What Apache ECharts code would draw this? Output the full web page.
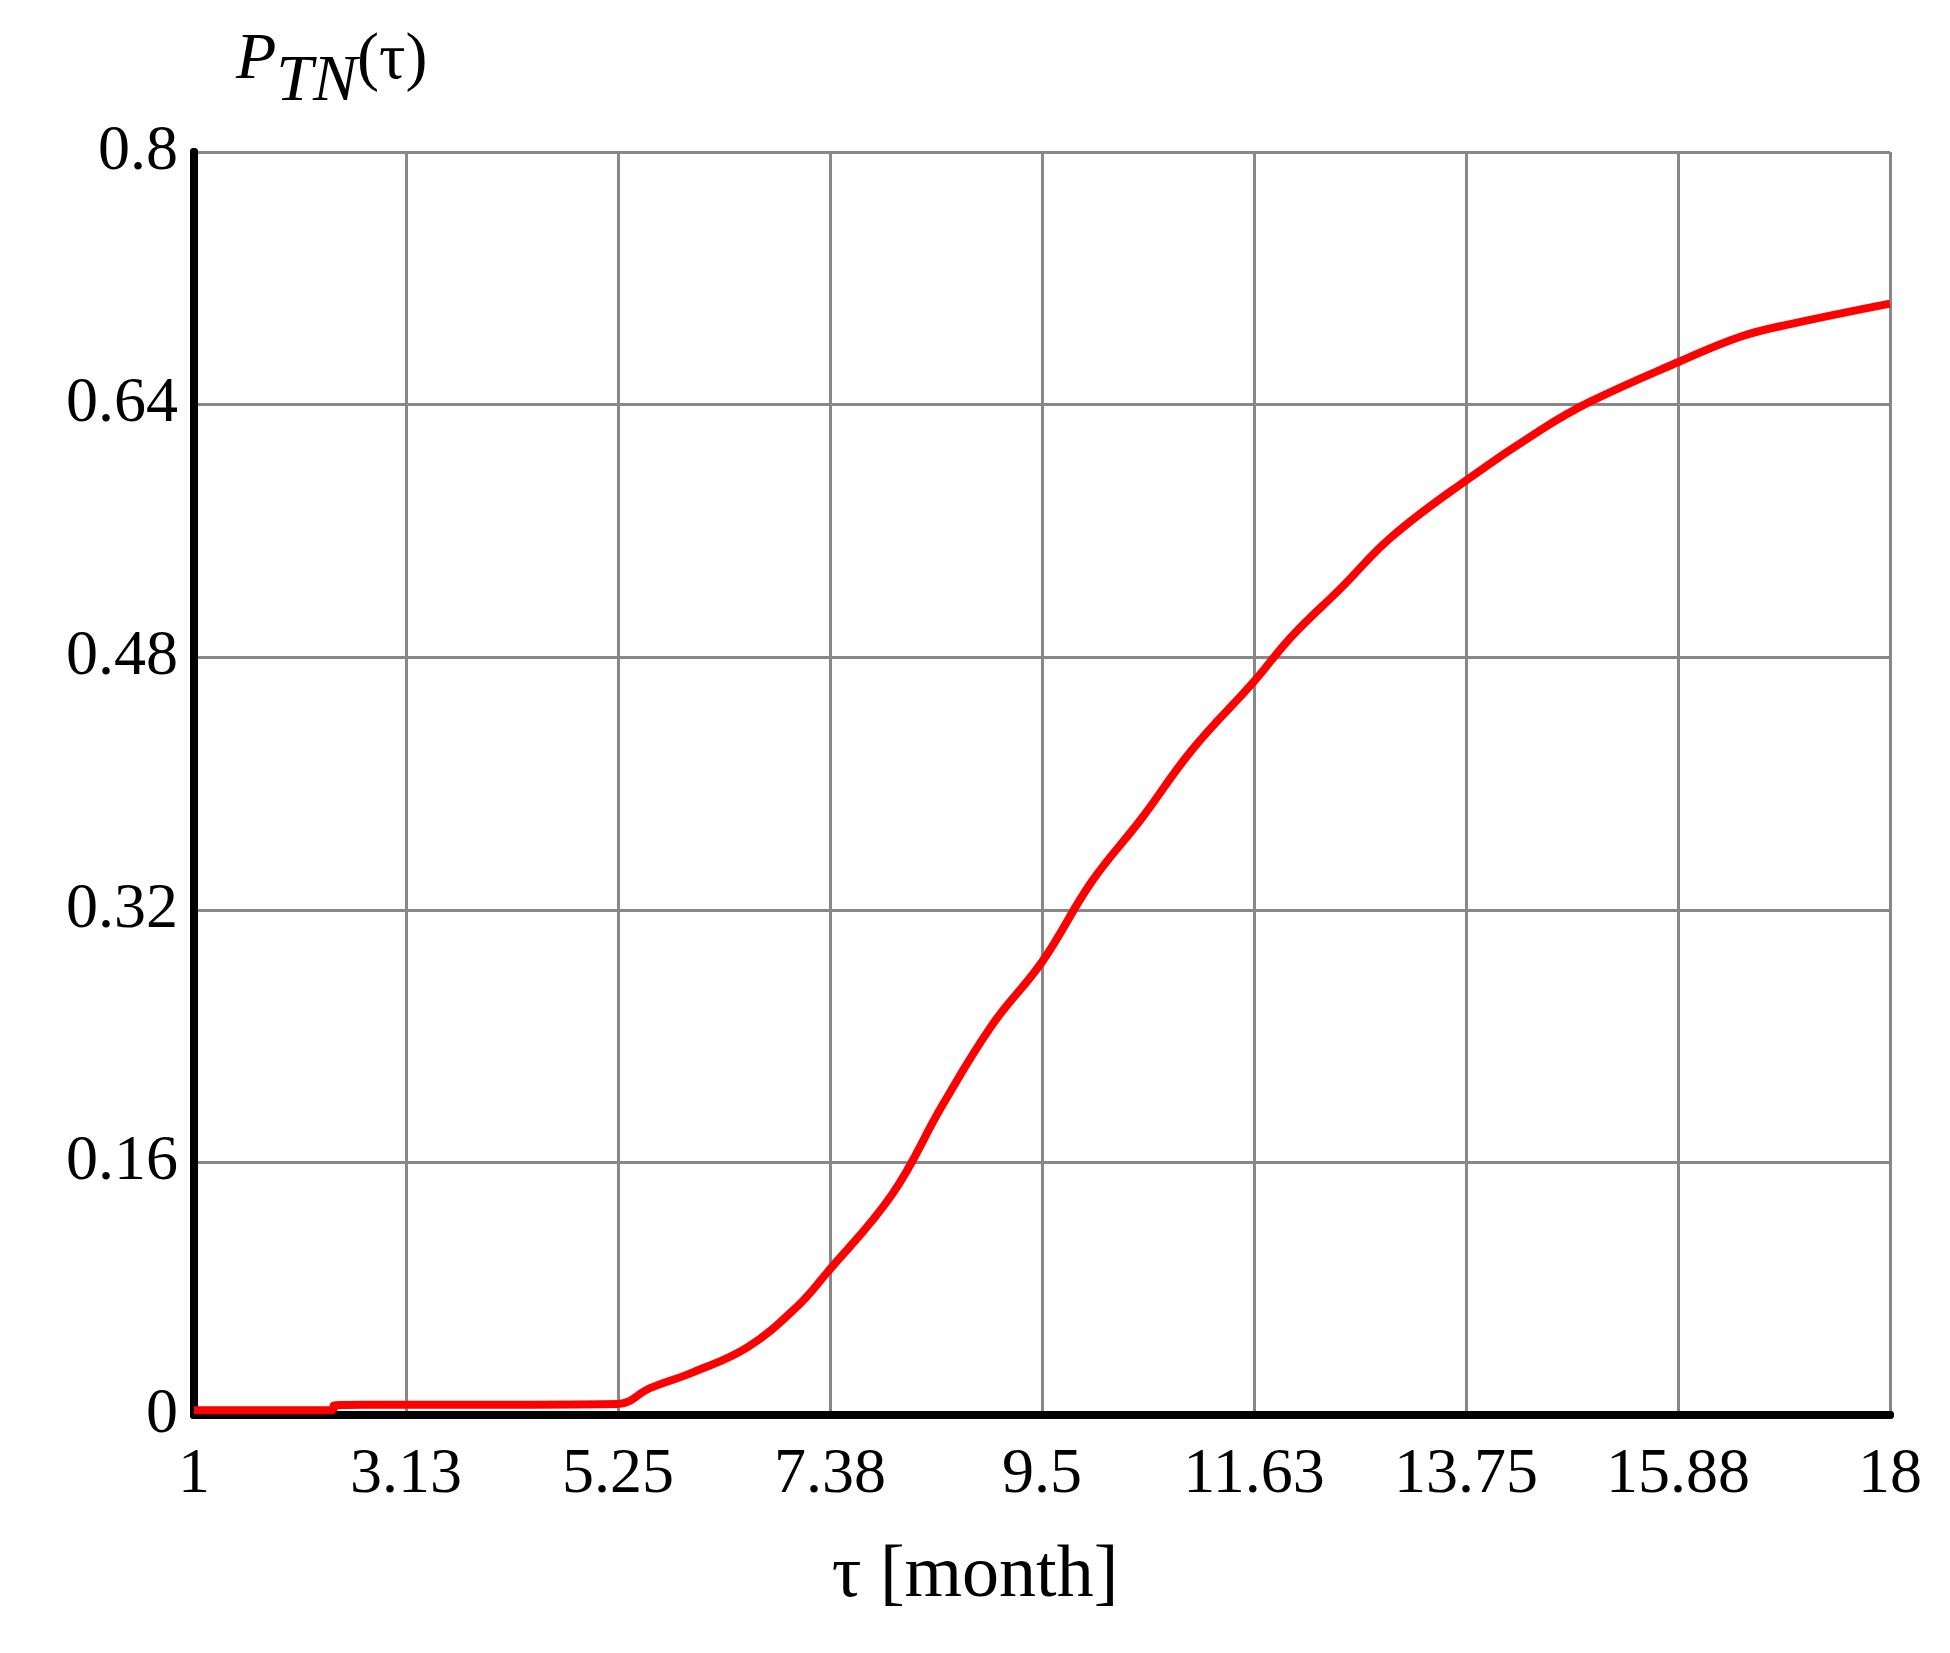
<!DOCTYPE html>
<html><head><meta charset="utf-8">
<script src="https://cdn.jsdelivr.net/npm/echarts@6/dist/echarts.min.js"></script>
<style>html,body{margin:0;background:#fff}#c{width:1950px;height:1653px}</style>
</head><body><div id="c"></div>
<script>
const tau = [1, 2.4, 2.4, 5.25, 5.57, 6.0, 6.55, 7.05, 7.33, 8.0, 8.5, 9.0, 9.5, 10.0, 10.5, 11.0, 11.63, 12.0, 12.5, 13.0, 13.75, 14.5, 15.0, 15.88, 16.5, 17.0, 18];
const prob = [0.003, 0.003, 0.006, 0.007, 0.017, 0.027, 0.043, 0.069, 0.089, 0.14, 0.196, 0.247, 0.287, 0.338, 0.378, 0.421, 0.465, 0.493, 0.524, 0.556, 0.592, 0.624, 0.642, 0.667, 0.683, 0.691, 0.704];
const xOffset = 1;
const F = 'Liberation Serif';
const axisLineStyle = {show:true,lineStyle:{color:'#000',width:8}};
const chart = echarts.init(document.getElementById('c'));
chart.setOption({
  animation:false,
  grid:{left:194,right:60,top:152,bottom:238},
  graphic:[
    {type:'text',left:236,top:28,style:{text:'{p|P}{s|TN}{n|(τ)}',rich:{
      p:{fontFamily:F,fontStyle:'italic',fontSize:66,fill:'#000'},
      s:{fontFamily:F,fontStyle:'italic',fontSize:66,fill:'#000',padding:[44,0,0,0]},
      n:{fontFamily:F,fontSize:66,fill:'#000'}}}},
    {type:'text',left:'center',top:1540,x:70,style:{text:'τ [month]',fontFamily:F,fontSize:74,fill:'#000'}}
  ],
  xAxis:[{type:'value',min:0,max:17,interval:2.125,
    axisLine:axisLineStyle,axisTick:{show:false},
    splitLine:{show:true,lineStyle:{color:'#888',width:3}},
    axisLabel:{margin:28,fontFamily:F,fontSize:64,color:'#000',
      formatter:v=>String(parseFloat((v+xOffset).toFixed(2)))}},
    {type:'value',position:'top',min:0,max:17,axisLine:axisLineStyle,axisTick:{show:false},axisLabel:{show:false},splitLine:{show:false}}],
  yAxis:[{type:'value',min:0,max:0.8,interval:0.16,
    axisLine:axisLineStyle,axisTick:{show:false},
    splitLine:{show:true,lineStyle:{color:'#888',width:3}},
    axisLabel:{margin:16,fontFamily:F,fontSize:64,color:'#000',formatter:v=>String(parseFloat(v.toFixed(2)))}},
    {type:'value',position:'right',min:0,max:0.8,axisLine:axisLineStyle,axisTick:{show:false},axisLabel:{show:false},splitLine:{show:false}}],
  series:[{type:'line',smooth:0.4,symbol:'none',
    lineStyle:{color:'#ff0000',width:8},
    data:tau.map((t,i)=>[t-xOffset,prob[i]])}]
});
</script></body></html>
